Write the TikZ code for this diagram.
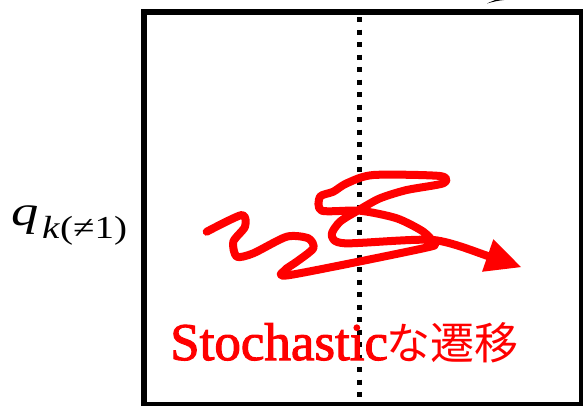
\documentclass[tikz,border=0pt]{standalone}
\usepackage{fontspec}
\setmainfont{Liberation Serif}
\newfontfamily\semibold[FakeBold=2]{Liberation Serif}
\newfontfamily\cjk{Noto Sans CJK JP}
\usetikzlibrary{arrows.meta}
\definecolor{pred}{RGB}{255,0,0}
\tikzset{
  frame/.style={line width=6pt, draw=black},
  divider/.style={line width=5pt, draw=black, dash pattern=on 5pt off 7.5pt},
  scribble/.style={line width=8pt, draw=pred, line cap=round, line join=round},
  lbl/.style={inner sep=0pt, anchor=base west}
}
\begin{document}
\begin{tikzpicture}[x=1pt,y=-1pt]
\useasboundingbox (0,0) rectangle (583,405);
% frame
\draw[frame] (144,12) rectangle (582,405);
% dotted divider
\draw[divider] (359.5,17) -- (359.5,402);
% small black mark at top
\fill[black] (487,3.5) .. controls (494,1.5) and (499,0.5) .. (504,0) -- (504,-3) .. controls (498,-1) and (492,1) .. cycle;
% label q
\node[lbl] (q) at (11,225) {\fontsize{42}{42}\selectfont\scalebox{1.3}[1]{\itshape q}};
\node[lbl] (sub) at (42,238) {\fontsize{32}{32}\selectfont\scalebox{1.22}[1]{\textit{k}(≠1)}};
% scribble
\draw[scribble, -{Triangle[length=36pt,width=32pt]}] plot[smooth, tension=0.45] coordinates {
 (206.7,231.7) (241.7,215) (245,226.7) (233.3,241.7) (236.7,256.7) (253.3,253.3)
 (286.7,236.7) (308.3,238.3) (313.3,248.3) (296.7,261.7) (285,270) (290,275)
 (423.3,248.3) (433.3,243.3) (423.3,231.7) (396.7,218.3) (360,210.7) (321.7,210.7)
 (320,196.7) (333.3,191.7) (346.7,183.3) (373.3,175) (440,176) (443.3,183.3)
 (406.7,190) (380,198.3) (360,209.3) (340,221.7) (331.7,235) (345,243.3)
 (433.3,240) (490,256.7) (521.7,267.3)};
% red caption
\node[lbl, text=pred] (cap) at (170,360) {\fontsize{53}{53}\selectfont\semibold Stochastic};
\node[lbl, text=pred] (capj) at (386,359) {\fontsize{44}{44}\selectfont\cjk な遷移};
\end{tikzpicture}
\end{document}
